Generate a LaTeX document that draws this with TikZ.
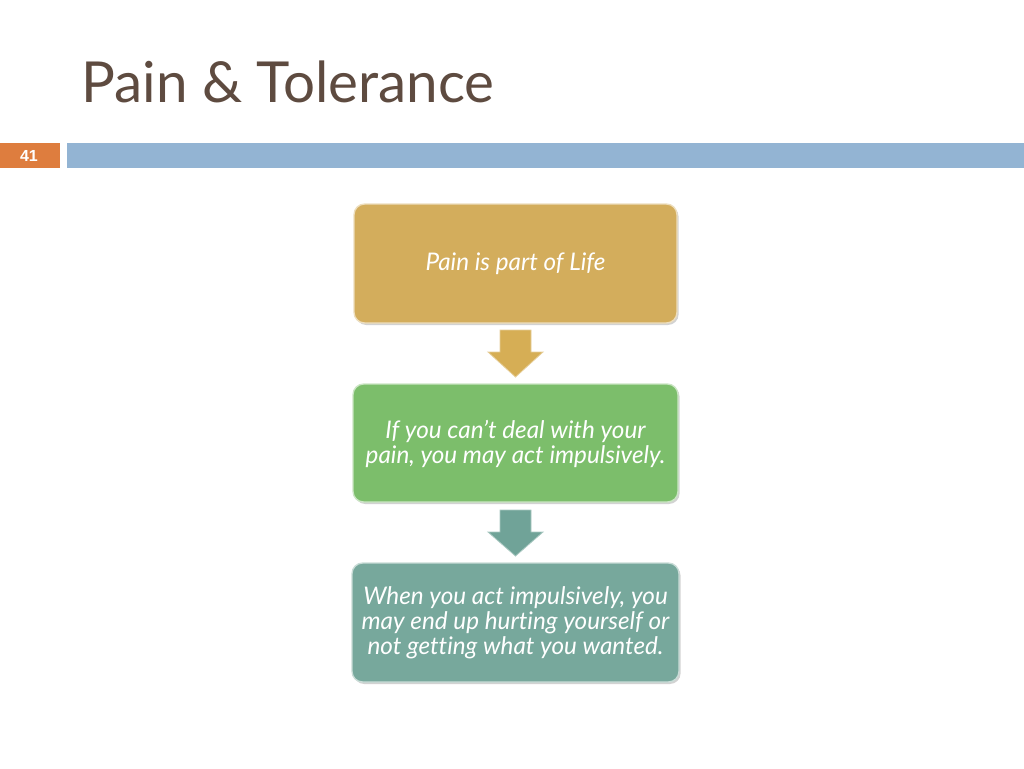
\documentclass[tikz,border=0pt]{standalone}
\usepackage{fontspec}
\setmainfont{Lato}[Ligatures={NoCommon}]
\newfontfamily\numfont{Liberation Sans}
\usetikzlibrary{shadows}
\definecolor{titlec}{HTML}{5E4B40}
\definecolor{numc}{HTML}{DE7D3E}
\definecolor{barc}{HTML}{93B4D3}
\definecolor{goldc}{HTML}{D3AD5C}
\definecolor{goldd}{HTML}{D6AE55}
\definecolor{greenc}{HTML}{7CBE6B}
\definecolor{tealc}{HTML}{77A89C}
\definecolor{teald}{HTML}{70A398}
\tikzset{
  stepbox/.style={rounded corners=8pt, draw=white!60!#1, line width=1pt, fill=#1,
    drop shadow={shadow xshift=1.2pt, shadow yshift=-1.5pt, opacity=0.35}},
  boxtext/.style={text=white, font=\itshape\fontsize{18.2}{18.8}\selectfont, align=center},
  downarrow/.style={fill=#1, draw=white!40!#1, line width=0.6pt, line join=miter}
}
\begin{document}
\begin{tikzpicture}[x=0.75pt,y=-0.75pt]
\useasboundingbox (0,0) rectangle (1024,768);
\fill[white] (0,0) rectangle (1024,768);
% title
\node[anchor=base west, inner sep=0pt, text=titlec, font=\fontsize{42.4}{50}\selectfont] (title) at (81,102) {Pain \& Tolerance};
% header bar
\fill[numc] (0,143) rectangle (60,168);
\node[text=white, font=\numfont\bfseries\fontsize{12}{14}\selectfont] (num) at (29,155.5) {41};
\fill[barc] (67,143) rectangle (1024,168);
% boxes
\draw[stepbox=goldc] (354,204) rectangle (677,323);
\node[boxtext] (b1) at (515.5,264) {Pain is part of Life};
\draw[stepbox=greenc] (353,384) rectangle (678,502);
\node[boxtext] (b2) at (515.5,444) {If you can't deal with your\\pain, you may act impulsively.};
\draw[stepbox=tealc] (352,563) rectangle (679,682);
\node[boxtext] (b3) at (515.5,623) {When you act impulsively, you\\may end up hurting yourself or\\not getting what you wanted.};
% arrows
\draw[downarrow=goldd] (500,330) -- (531,330) -- (531,352) -- (543,352) -- (515.5,377) -- (488,352) -- (500,352) -- cycle;
\draw[downarrow=teald] (500,510) -- (531,510) -- (531,532) -- (543,532) -- (515.5,556) -- (488,532) -- (500,532) -- cycle;
\end{tikzpicture}
\end{document}
